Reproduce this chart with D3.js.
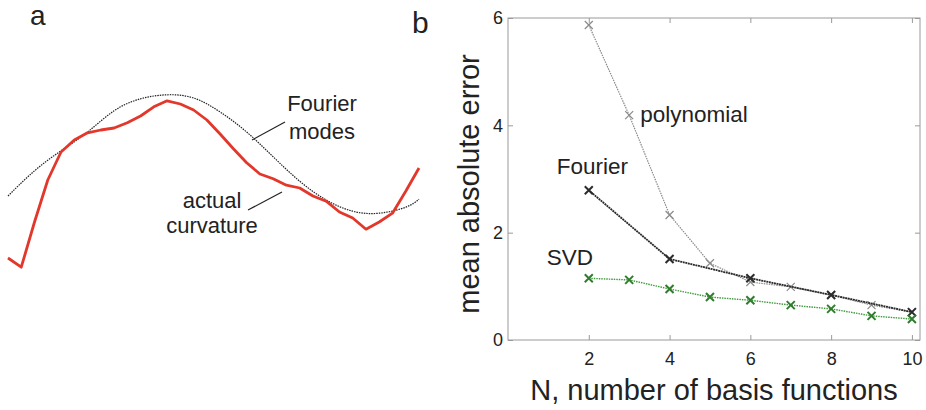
<!DOCTYPE html>
<html lang="en">
<head>
    <meta charset="UTF-8">
    <title>Curvature basis functions</title>
    <style>
        body { margin: 0; background: #fff; }
        svg text { font-family: "Liberation Sans", Arial, sans-serif; fill: #222; }
    </style>
</head>
<body>
    <div id="chart"></div>

    <script src="https://d3js.org/d3.v7.min.js"></script>
    <script>
        // panel a: curvature along the body (sample index -> curvature)
        const actualIdx = d3.range(0, 32);
        const actualCurv = [-1.95, -2.18, -1.05, 0.0, 0.70, 1.00, 1.18, 1.25, 1.30, 1.43, 1.60,
            1.83, 1.98, 1.90, 1.75, 1.50, 1.15, 0.78, 0.43, 0.15, 0.03, -0.13, -0.20, -0.40,
            -0.53, -0.80, -0.95, -1.23, -1.05, -0.83, -0.28, 0.30];
        const modesIdx = [0, 2, 4, 6, 8, 10, 12, 14, 16, 18, 20, 22, 24, 26, 28, 30, 31];
        const modesCurv = [-0.40, 0.23, 0.73, 1.20, 1.73, 2.03, 2.13, 2.05, 1.70, 1.20, 0.58,
            -0.03, -0.50, -0.78, -0.83, -0.68, -0.48];

        // panel b: mean absolute error vs number of basis functions
        const polyN = [2, 3, 4, 5, 6, 7, 8, 9, 10];
        const polyErr = [5.87, 4.19, 2.33, 1.43, 1.08, 0.99, 0.84, 0.65, 0.52];
        const fourierN = [2, 4, 6, 8, 10];
        const fourierErr = [2.79, 1.51, 1.15, 0.84, 0.52];
        const svdN = [2, 3, 4, 5, 6, 7, 8, 9, 10];
        const svdErr = [1.15, 1.12, 0.95, 0.80, 0.74, 0.65, 0.58, 0.45, 0.39];
        const xTicks = [2, 4, 6, 8, 10];
        const yTicks = [0, 2, 4, 6];

        const svg = d3.select("#chart")
            .append("svg")
            .attr("width", 926)
            .attr("height", 410);

        // ---- panel a ----
        svg.append("text").attr("x", 30).attr("y", 25)
            .style("font-size", "28px").text("a");

        const xA = d3.scaleLinear().domain([0, 31]).range([8, 419]);
        const yA = d3.scaleLinear().domain([-2, 2]).range([260, 100]);

        const lineA = d3.line()
            .x(d => xA(d[0]))
            .y(d => yA(d[1]));

        svg.append("path")
            .datum(modesIdx.map((v, i) => [v, modesCurv[i]]))
            .attr("d", lineA.curve(d3.curveNatural))
            .attr("fill", "none")
            .attr("stroke", "#222")
            .attr("stroke-width", 1.2)
            .attr("stroke-dasharray", "1.5,1");

        svg.append("path")
            .datum(actualIdx.map((v, i) => [v, actualCurv[i]]))
            .attr("d", d3.line().x(d => xA(d[0])).y(d => yA(d[1])))
            .attr("fill", "none")
            .attr("stroke", "#e3372b")
            .attr("stroke-width", 2.8)
            .attr("stroke-linejoin", "round");

        // labels with leader lines
        svg.append("text").attr("x", 322).attr("y", 111).attr("text-anchor", "middle")
            .style("font-size", "22px").text("Fourier");
        svg.append("text").attr("x", 322).attr("y", 139).attr("text-anchor", "middle")
            .style("font-size", "22px").text("modes");
        svg.append("line").attr("x1", 285).attr("y1", 122).attr("x2", 252).attr("y2", 140)
            .attr("stroke", "#222").attr("stroke-width", 1.2);

        svg.append("text").attr("x", 212).attr("y", 208).attr("text-anchor", "middle")
            .style("font-size", "22px").text("actual");
        svg.append("text").attr("x", 212).attr("y", 233).attr("text-anchor", "middle")
            .style("font-size", "22px").text("curvature");
        svg.append("line").attr("x1", 248).attr("y1", 210).attr("x2", 282).attr("y2", 192)
            .attr("stroke", "#222").attr("stroke-width", 1.2);

        // ---- panel b ----
        svg.append("text").attr("x", 412).attr("y", 33)
            .style("font-size", "30px").text("b");

        const margin = { top: 18, right: 6, bottom: 70, left: 508 };
        const width = 926 - margin.left - margin.right,
            height = 410 - margin.top - margin.bottom;

        const g = svg.append("g")
            .attr("transform", `translate(${margin.left},${margin.top})`);

        const x = d3.scaleLinear().domain([0, 10.2]).range([0, width]);
        const y = d3.scaleLinear().domain([0, 6]).range([height, 0]);

        // box with inward ticks on all sides
        g.append("rect")
            .attr("width", width).attr("height", height)
            .attr("fill", "none").attr("stroke", "#9a9a9a").attr("stroke-width", 1);

        const axisStyle = sel => {
            sel.select(".domain").remove();
            sel.selectAll(".tick line").attr("stroke", "#9a9a9a");
            sel.selectAll(".tick text")
                .style("font-family", "'Liberation Sans', Arial, sans-serif")
                .style("font-size", "18px").attr("fill", "#222");
        };

        g.append("g").attr("transform", `translate(0,${height})`)
            .call(d3.axisBottom(x).tickValues(xTicks).tickSize(-5).tickPadding(12).tickFormat(d3.format("d")))
            .call(axisStyle);
        g.append("g")
            .call(d3.axisTop(x).tickValues(xTicks).tickSize(-5).tickFormat(""))
            .call(axisStyle);
        g.append("g")
            .call(d3.axisLeft(y).tickValues(yTicks).tickSize(-5).tickPadding(5).tickFormat(d3.format("d")))
            .call(axisStyle);
        g.append("g").attr("transform", `translate(${width},0)`)
            .call(d3.axisRight(y).tickValues(yTicks).tickSize(-5).tickFormat(""))
            .call(axisStyle);

        const series = [
            { name: "polynomial", n: polyN, err: polyErr, color: "#8a8a8a", line: 1.2, mark: 1.2, dash: "1.5,1" },
            { name: "Fourier", n: fourierN, err: fourierErr, color: "#2b2b2b", line: 1.8, mark: 2, dash: "2,0.6" },
            { name: "SVD", n: svdN, err: svdErr, color: "#3f9a3c", line: 1.4, mark: 2, dash: "1.5,1" }
        ];

        const line = d3.line().x(d => x(d.n)).y(d => y(d.e));

        series.forEach(s => {
            const pts = s.n.map((n, i) => ({ n: n, e: s.err[i] }));
            g.append("path")
                .datum(pts)
                .attr("d", line)
                .attr("fill", "none")
                .attr("stroke", s.color)
                .attr("stroke-width", s.line)
                .attr("stroke-dasharray", s.dash);
            const r = 4;
            g.selectAll(null)
                .data(pts)
                .enter()
                .append("path")
                .attr("d", d => `M${x(d.n) - r},${y(d.e) - r}L${x(d.n) + r},${y(d.e) + r}` +
                    `M${x(d.n) - r},${y(d.e) + r}L${x(d.n) + r},${y(d.e) - r}`)
                .attr("stroke", s.name === "SVD" ? "#2f7d2c" : s.color)
                .attr("stroke-width", s.mark);
        });

        // series labels
        g.append("text").attr("x", x(3) + 11).attr("y", y(4) - 3)
            .style("font-size", "22.5px").text("polynomial");
        g.append("text").attr("x", x(2) - 32).attr("y", y(3.1))
            .style("font-size", "22.5px").text("Fourier");
        g.append("text").attr("x", x(2) - 42).attr("y", y(1.4))
            .style("font-size", "22.5px").text("SVD");

        // axis titles
        g.append("text")
            .attr("transform", "rotate(-90)")
            .attr("x", -166)
            .attr("y", -29)
            .attr("text-anchor", "middle")
            .style("font-size", "29px")
            .text("mean absolute error");
        g.append("text")
            .attr("x", width / 2)
            .attr("y", height + 60)
            .attr("text-anchor", "middle")
            .style("font-size", "29px")
            .text("N, number of basis functions");
    </script>
</body>
</html>
